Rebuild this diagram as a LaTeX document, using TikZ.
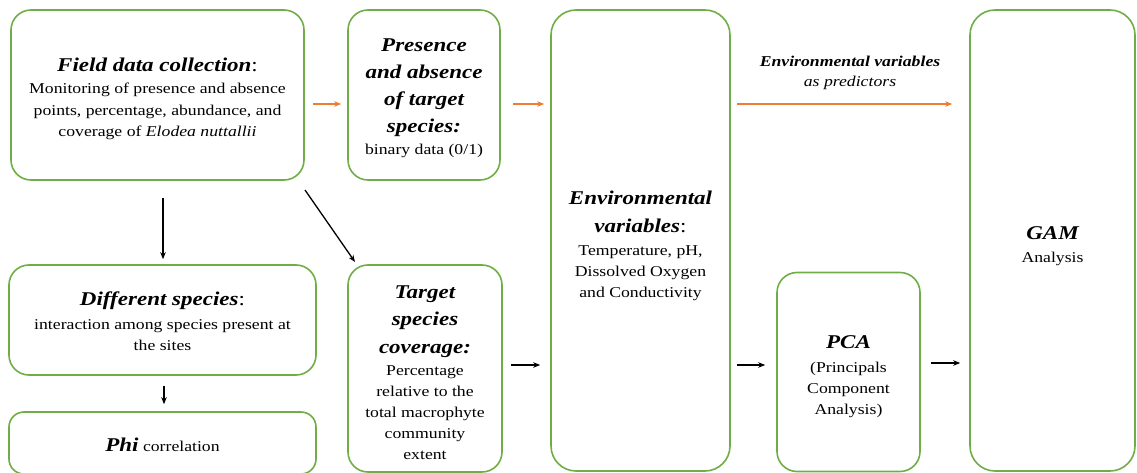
\documentclass[tikz,border=0pt]{standalone}
\usepackage{fontspec}
\setmainfont{Liberation Serif}[FakeStretch=1.18]
\usetikzlibrary{arrows.meta}
\definecolor{boxgreen}{RGB}{112,173,71}
\definecolor{arrorange}{RGB}{237,125,49}
\tikzset{
  box/.style={draw=boxgreen, line width=1.6pt, rounded corners=20pt, inner sep=0pt},
  ttl/.style={font=\fontsize{19.5}{27.5}\selectfont\bfseries\itshape, align=center, anchor=base, inner sep=0pt},
  bdy/.style={font=\fontsize{15}{21}\selectfont, align=center, anchor=base, inner sep=0pt},
  oarr/.style={draw=arrorange, line width=1.3pt, -{Stealth[length=7pt,width=5.5pt]}},
  barr/.style={draw=black, line width=1.3pt, -{Stealth[length=7pt,width=5.5pt]}},
}
\begin{document}
\begin{tikzpicture}[x=1pt,y=-1pt]
\useasboundingbox (0,0) rectangle (1137,473);
% boxes
\node[box, minimum width=293pt, minimum height=170pt] (field) at (157.5,95) {};
\node[box, minimum width=152pt, minimum height=170pt] (pres) at (424,95) {};
\node[box, minimum width=179pt, minimum height=461pt, rounded corners=25pt] (env) at (640.5,240.5) {};
\node[box, minimum width=165pt, minimum height=461pt, rounded corners=25pt] (gam) at (1052.5,240.5) {};
\node[box, minimum width=307pt, minimum height=110pt] (diff) at (162.5,320) {};
\node[box, minimum width=307pt, minimum height=62pt, rounded corners=15pt] (phi) at (162.5,443) {};
\node[box, minimum width=154pt, minimum height=207pt] (targ) at (425,368.5) {};
\node[box, minimum width=143pt, minimum height=199pt] (pca) at (848.5,372) {};
% texts (anchor base = baseline of the last line)
\node[ttl] (t1) at (157.5,72) {Field data collection\textup{\mdseries :}};
\node[bdy, font=\fontsize{15}{21.5}\selectfont] (b1) at (157.5,137) {Monitoring of presence and absence\\points, percentage, abundance, and\\coverage of \textit{Elodea nuttallii}};
\node[ttl, font=\fontsize{19.5}{27}\selectfont\bfseries\itshape] (t2) at (424,133) {Presence\\and absence\\of target\\species:};
\node[bdy] (b2) at (424,155) {binary data (0/1)};
\node[ttl, font=\fontsize{19.5}{28}\selectfont\bfseries\itshape] (t3) at (640.5,232) {Environmental\\variables\textup{\mdseries :}};
\node[bdy] (b3) at (640.5,297) {Temperature, pH,\\Dissolved Oxygen\\and Conductivity};
\node[ttl] (t4) at (425,353) {Target\\species\\coverage:};
\node[bdy] (b4) at (425,459) {Percentage\\relative to the\\total macrophyte\\community\\extent};
\node[ttl] (t5) at (1052.5,239) {GAM};
\node[bdy] (b5) at (1052.5,262) {Analysis};
\node[ttl] (t6) at (848.5,348) {PCA};
\node[bdy] (b6) at (848.5,414) {(Principals\\Component\\Analysis)};
\node[ttl] (t7) at (162.5,305) {Different species\textup{\mdseries :}};
\node[bdy] (b7) at (162.5,350) {interaction among species present at\\the sites};
\node[bdy] (t8) at (162.5,451) {{\fontsize{19.5}{24}\selectfont\bfseries\itshape Phi} correlation};
\node[font=\fontsize{15}{20}\selectfont\bfseries\itshape, anchor=base, inner sep=0pt] (l1) at (850,67) {Environmental variables};
\node[font=\fontsize{15}{20}\selectfont\itshape, anchor=base, inner sep=0pt] (l2) at (850,87) {as predictors};
% helper coordinates
\coordinate (orow) at (0,104);
\coordinate (brow) at (0,365);
\coordinate (prow) at (0,363);
\coordinate (vcol) at (163,0);
\coordinate (wcol) at (164,0);
\coordinate (d1) at (305,190);
\coordinate (d2) at (355,262);
% orange arrows
\draw[oarr, shorten <=8pt, shorten >=6pt] (field.east |- orow) -- (pres.west |- orow);
\draw[oarr, shorten <=12pt, shorten >=6pt] (pres.east |- orow) -- (env.west |- orow);
\draw[oarr, shorten <=6pt, shorten >=17pt] (env.east |- orow) -- (gam.west |- orow);
% black arrows
\draw[barr, shorten <=17pt, shorten >=5pt] (field.south -| vcol) -- (diff.north -| vcol);
\draw[barr, shorten <=10pt, shorten >=7pt] (diff.south -| wcol) -- (phi.north -| wcol);
\draw[barr] (d1) -- (d2);
\draw[barr, shorten <=8pt, shorten >=10pt] (targ.east |- brow) -- (env.west |- brow);
\draw[barr, shorten <=6pt, shorten >=11pt] (env.east |- brow) -- (pca.west |- brow);
\draw[barr, shorten <=10pt, shorten >=9pt] (pca.east |- prow) -- (gam.west |- prow);
\end{tikzpicture}
\end{document}
